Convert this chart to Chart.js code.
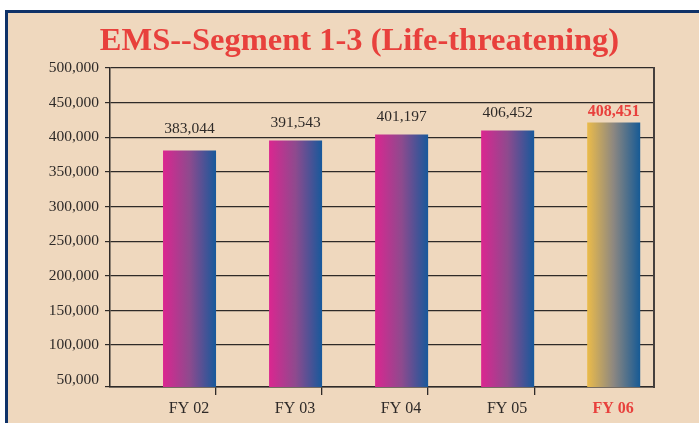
<!DOCTYPE html>
<html>
<head>
<meta charset="utf-8">
<script src="https://cdn.jsdelivr.net/npm/chart.js@4"></script>
<style>
  html, body { margin: 0; padding: 0; background: #fff; overflow: hidden; width: 699px; height: 423px; }
  #panel {
    position: absolute; left: 5px; top: 10px; width: 710px; height: 430px;
    background: #efd8be; border-top: 3px solid #0f3268; border-left: 3px solid #0f3268;
  }
  #chart { position: absolute; left: 8px; top: 13px; }
</style>
</head>
<body>
<div id="panel"></div>
<canvas id="chart" width="703" height="410"></canvas>
<script>
const categories = ["FY 02", "FY 03", "FY 04", "FY 05", "FY 06"];
// bar heights as drawn in the picture
const barHeights = [380900, 395300, 403900, 409700, 421200];
// numbers printed above the bars
const valueLabels = [383044, 391543, 401197, 406452, 408451];
const yTicks = [50000, 100000, 150000, 200000, 250000, 300000, 350000, 400000, 450000, 500000];
const yMin = 39500;
const yMax = 500000;
const xMax = 5.13;

const red = "#e8403c";
const ink = "#2e2a28";
const last = categories.length - 1;

function barFill(c) {
  const chart = c.chart;
  const xs = chart.scales.x;
  if (c.type !== "data" || !xs) return "#8a4a8c";
  const left = xs.getPixelForValue(c.raw.x - 0.25);
  const right = xs.getPixelForValue(c.raw.x + 0.25);
  if (!Number.isFinite(left) || !Number.isFinite(right)) return "#8a4a8c";
  const g = chart.ctx.createLinearGradient(left, 0, right, 0);
  if (c.dataIndex === last) {
    g.addColorStop(0, "#ebbb4a");
    g.addColorStop(0.5, "#8c8781");
    g.addColorStop(1, "#165a95");
  } else {
    g.addColorStop(0, "#db2690");
    g.addColorStop(0.5, "#8e4a8e");
    g.addColorStop(1, "#17599b");
  }
  return g;
}

// numbers above the bars
const valueLabelPlugin = {
  id: "valueLabels",
  afterDatasetsDraw(chart) {
    const ctx = chart.ctx;
    const meta = chart.getDatasetMeta(0);
    const y = chart.scales.y;
    ctx.save();
    ctx.textAlign = "center";
    ctx.textBaseline = "middle";
    meta.data.forEach((bar, i) => {
      if (i === last) {
        ctx.fillStyle = red;
        ctx.font = "bold 16px 'Liberation Serif'";
      } else {
        ctx.fillStyle = ink;
        ctx.font = "15.5px 'Liberation Serif'";
      }
      ctx.fillText(valueLabels[i].toLocaleString("en-US"), bar.x, y.getPixelForValue(valueLabels[i]) - 20);
    });
    ctx.restore();
  }
};

new Chart(document.getElementById("chart"), {
  type: "bar",
  data: {
    datasets: [{
      data: barHeights.map((v, i) => ({ x: i + 0.75, y: v })),
      backgroundColor: barFill,
      borderWidth: 0,
      categoryPercentage: 1,
      barPercentage: 0.5
    }]
  },
  options: {
    responsive: false,
    animation: false,
    layout: { padding: 0 },
    plugins: {
      legend: { display: false },
      tooltip: { enabled: false },
      title: {
        display: true,
        text: "EMS--Segment 1-3 (Life-threatening)",
        color: red,
        font: { family: "'Liberation Serif'", size: 32.5, weight: "bold" },
        padding: { top: 9, bottom: 7 }
      }
    },
    scales: {
      x: {
        type: "linear",
        offset: false,
        min: 0,
        max: xMax,
        afterBuildTicks: s => { s.ticks = categories.map((c, i) => ({ value: i })); },
        afterFit: s => { s.height = 36; },
        grid: {
          offset: false,
          drawOnChartArea: false,
          tickLength: 8,
          tickColor: c => c.index === 0 ? "rgba(0,0,0,0)" : ink,
          lineWidth: 1.3
        },
        border: { color: ink, width: 1.5 },
        ticks: {
          labelOffset: 79,
          padding: 4,
          maxRotation: 0,
          autoSkip: false,
          callback: (v, i) => categories[i],
          color: c => c.index === last ? red : ink,
          font: c => c.index === last
            ? { family: "'Liberation Serif'", size: 16, weight: "bold" }
            : { family: "'Liberation Serif'", size: 16 }
        }
      },
      y: {
        min: yMin,
        max: yMax,
        afterBuildTicks: s => { s.ticks = [yMin].concat(yTicks).map(v => ({ value: v })); },
        afterFit: s => { s.width = 102; },
        grid: {
          color: c => c.tick && c.tick.value === 50000 ? "rgba(0,0,0,0)" : ink,
          tickColor: c => c.tick && c.tick.value === 50000 ? "rgba(0,0,0,0)" : ink,
          lineWidth: 1.2,
          tickLength: 5
        },
        border: { color: ink, width: 1.5 },
        ticks: {
          padding: 6,
          color: ink,
          font: { family: "'Liberation Serif'", size: 15.5 },
          callback: v => v === yMin ? "" : v.toLocaleString("en-US")
        }
      },
      yRight: {
        position: "right",
        afterFit: s => { s.width = 57; },
        grid: { drawOnChartArea: false, drawTicks: false },
        border: { color: "#453f3d", width: 2 },
        ticks: { display: false }
      }
    }
  },
  plugins: [valueLabelPlugin]
});
</script>
</body>
</html>
